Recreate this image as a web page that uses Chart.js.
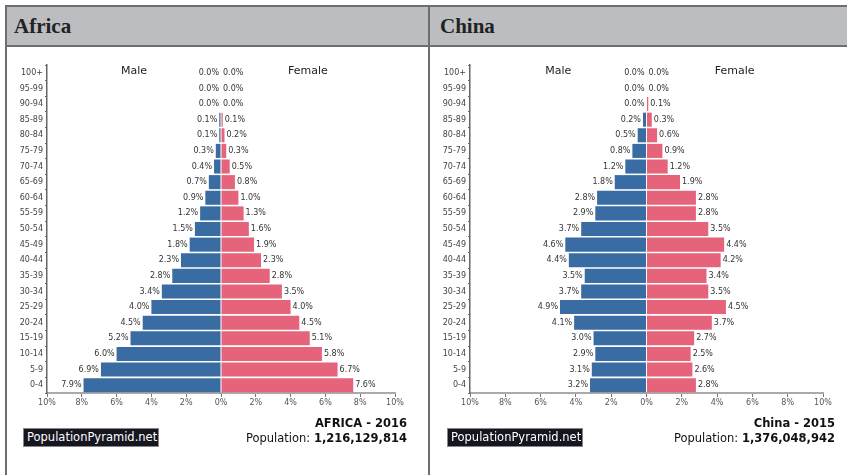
<!DOCTYPE html>
<html>
<head>
<meta charset="utf-8">
<script src="https://cdn.jsdelivr.net/npm/chart.js@4"></script>
<style>
  html, body { margin: 0; padding: 0; background: #fff; }
  body { width: 847px; height: 475px; position: relative; overflow: hidden; font-family: "DejaVu Sans", sans-serif; }
  .frame { position: absolute; left: 5px; top: 5px; width: 850px; height: 480px; border: 2px solid #6d6e71; box-sizing: border-box; }
  .header { position: absolute; left: 7px; top: 7px; width: 840px; height: 38px; background: #bcbdc0; border-bottom: 2px solid #6d6e71; }
  .divider { position: absolute; left: 428px; top: 7px; width: 2px; height: 470px; background: #6d6e71; }
  .title { position: absolute; top: 14px; font-family: "Liberation Serif", serif; font-weight: bold; font-size: 21px; color: #222; }
  canvas { position: absolute; }
  .brand { position: absolute; top: 428px; height: 19px; width: 136px; background: #15161f; border: 1px solid #888; box-sizing: border-box; color: #fff; font-size: 11.5px; line-height: 17px; padding-left: 3px; }
  .info { position: absolute; top: 416px; text-align: right; color: #111; font-size: 11.5px; line-height: 15px; }
  .info b { font-weight: bold; }
</style>
</head>
<body>
<div class="frame"></div>
<div class="header"></div>
<div class="divider"></div>
<div class="title" style="left:14px">Africa</div>
<div class="title" style="left:440px">China</div>

<canvas id="africaChart" width="418" height="370" style="left:6px;top:48px"></canvas>
<canvas id="chinaChart" width="415" height="370" style="left:432px;top:48px"></canvas>

<div class="brand" style="left:23px">PopulationPyramid.net</div>
<div class="brand" style="left:447px">PopulationPyramid.net</div>
<div class="info" style="right:440px"><b>AFRICA - 2016</b><br>Population: <b>1,216,129,814</b></div>
<div class="info" style="right:12px"><b>China - 2015</b><br>Population: <b>1,376,048,942</b></div>

<script>
// age groups, top to bottom
const ageGroups = ['100+', '95-99', '90-94', '85-89', '80-84', '75-79', '70-74', '65-69', '60-64', '55-59',
    '50-54', '45-49', '40-44', '35-39', '30-34', '25-29', '20-24', '15-19', '10-14', '5-9', '0-4'];

const africaMale   = [0.0, 0.0, 0.0, 0.1, 0.1, 0.3, 0.4, 0.7, 0.9, 1.2, 1.5, 1.8, 2.3, 2.8, 3.4, 4.0, 4.5, 5.2, 6.0, 6.9, 7.9];
const africaFemale = [0.0, 0.0, 0.0, 0.1, 0.2, 0.3, 0.5, 0.8, 1.0, 1.3, 1.6, 1.9, 2.3, 2.8, 3.5, 4.0, 4.5, 5.1, 5.8, 6.7, 7.6];
const chinaMale    = [0.0, 0.0, 0.0, 0.2, 0.5, 0.8, 1.2, 1.8, 2.8, 2.9, 3.7, 4.6, 4.4, 3.5, 3.7, 4.9, 4.1, 3.0, 2.9, 3.1, 3.2];
const chinaFemale  = [0.0, 0.0, 0.1, 0.3, 0.6, 0.9, 1.2, 1.9, 2.8, 2.8, 3.5, 4.4, 4.2, 3.4, 3.5, 4.5, 3.7, 2.7, 2.5, 2.6, 2.8];

const xTicks = [-10, -8, -6, -4, -2, 0, 2, 4, 6, 8, 10];

const maleColor = '#3a6ca4';
const femaleColor = '#e6647b';

// draws the % labels beside each bar and the Male / Female headings
const pyramidLabels = {
    id: 'pyramidLabels',
    afterDatasetsDraw(chart) {
        const ctx = chart.ctx;
        const xScale = chart.scales.x;
        ctx.save();
        ctx.font = '8px "DejaVu Sans", sans-serif';
        ctx.fillStyle = '#333';
        ctx.textBaseline = 'middle';
        chart.data.datasets.forEach(function (ds, i) {
            const meta = chart.getDatasetMeta(i);
            meta.data.forEach(function (bar, j) {
                const v = Math.abs(ds.data[j]);
                const txt = v.toFixed(1) + '%';
                if (ds.data[j] < 0 || ds.label === 'Male') {
                    ctx.textAlign = 'right';
                    ctx.fillText(txt, bar.x - 2, bar.y);
                } else {
                    ctx.textAlign = 'left';
                    ctx.fillText(txt, bar.x + 2, bar.y);
                }
            });
        });
        ctx.font = '11px "DejaVu Sans", sans-serif';
        ctx.fillStyle = '#222';
        ctx.textAlign = 'center';
        ctx.fillText('Male', xScale.getPixelForValue(-5), chart.chartArea.top + 6);
        ctx.fillText('Female', xScale.getPixelForValue(5), chart.chartArea.top + 6);
        ctx.restore();
    }
};

function createPyramid(canvasId, male, female, yWidth, padRight) {
    const ctx = document.getElementById(canvasId).getContext('2d');
    return new Chart(ctx, {
        type: 'bar',
        data: {
            labels: ageGroups,
            datasets: [{
                label: 'Male',
                data: male.map(v => -v),
                backgroundColor: maleColor,
                barPercentage: 0.9,
                categoryPercentage: 1.0
            }, {
                label: 'Female',
                data: female,
                backgroundColor: femaleColor,
                barPercentage: 0.9,
                categoryPercentage: 1.0
            }]
        },
        options: {
            indexAxis: 'y',
            responsive: false,
            animation: false,
            layout: { padding: { top: 17, right: padRight, left: 0, bottom: 0 } },
            plugins: { legend: { display: false }, tooltip: { enabled: false } },
            scales: {
                x: {
                    stacked: true,
                    min: -10,
                    max: 10,
                    afterBuildTicks: function (scale) {
                        scale.ticks = xTicks.map(v => ({ value: v }));
                    },
                    ticks: {
                        callback: v => Math.abs(v) + '%',
                        font: { size: 8, family: 'DejaVu Sans' },
                        color: '#555',
                        padding: 1,
                        maxRotation: 0
                    },
                    grid: { drawOnChartArea: false, drawTicks: true, tickLength: 4, color: '#777' },
                    border: { display: true, color: '#aaa', width: 2 },
                    afterFit: function (scale) { scale.height = 25; }
                },
                y: {
                    stacked: true,
                    ticks: {
                        font: { size: 8, family: 'DejaVu Sans' },
                        color: '#444',
                        padding: 2,
                        autoSkip: false
                    },
                    grid: { drawOnChartArea: false, drawTicks: true, tickLength: 2, color: '#666' },
                    border: { display: true, color: '#666', width: 1.5 },
                    afterFit: function (scale) { scale.width = yWidth; }
                }
            }
        },
        plugins: [pyramidLabels]
    });
}

createPyramid('africaChart', africaMale, africaFemale, 41, 29);
createPyramid('chinaChart', chinaMale, chinaFemale, 38, 24);
</script>
</body>
</html>
